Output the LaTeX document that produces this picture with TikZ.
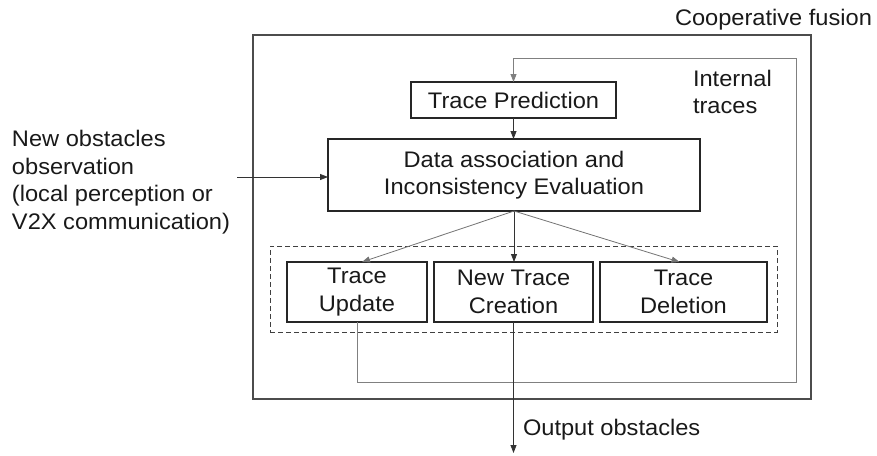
\documentclass[tikz,border=0pt]{standalone}
\usepackage{fontspec}
\setmainfont{Liberation Sans}[FakeStretch=1.05]
\usetikzlibrary{arrows.meta,calc}
\begin{document}
\begin{tikzpicture}[x=1pt,y=-1pt,
  every node/.style={font=\fontsize{22.5}{27.5}\selectfont, text=black!90},
  box/.style={draw=black!85, line width=1.2pt, inner sep=0pt, outer sep=0pt, align=center},
  outerbox/.style={draw=black!70, line width=1.5pt, inner sep=0pt, outer sep=0pt},
  dbox/.style={draw=black!75, line width=1pt, dash pattern=on 5pt off 3pt, inner sep=0pt, outer sep=0pt},
  arr/.style={draw=black!80, line width=0.8pt, -{Triangle[length=8pt,width=6pt]}},
  garr/.style={draw=black!55, line width=0.8pt, -{Triangle[length=8pt,width=6pt]}},
  fb/.style={draw=black!50, line width=0.9pt, -{Triangle[length=8pt,width=6pt]}},
  lbl/.style={inner sep=0pt, outer sep=0pt}
]
\useasboundingbox (0,0) rectangle (877,455);

% outer frame
\node[outerbox, minimum width=558pt, minimum height=364pt, anchor=north west] (outer) at (253,35) {};
\node[lbl, anchor=base east] (coop) at (872,25) {Cooperative fusion};

% dashed group
\node[dbox, minimum width=507pt, minimum height=86pt, anchor=north west] (grp) at (270,246) {};

% main boxes
\node[box, minimum width=205pt, minimum height=36pt] (tp) at (513.5,100) {Trace Prediction};
\node[box, minimum width=372pt, minimum height=72pt] (da) at (514,175) {Data association and\\Inconsistency Evaluation};
\node[box, minimum width=140pt, minimum height=60pt] (tu) at (357,292) {Trace\\Update};
\node[box, minimum width=159pt, minimum height=60pt] (ntc) at (513.5,292) {New Trace\\Creation};
\node[box, minimum width=167pt, minimum height=60pt] (td) at (683.5,292) {Trace\\Deletion};

% labels
\node[lbl, anchor=north west, align=left] (newobs) at (12,130.5) {New obstacles\\observation\\(local perception or\\V2X communication)};
\node[lbl, anchor=north west, align=left] (internal) at (693,70) {Internal\\traces};
\node[lbl, anchor=base west] (outlbl) at (523,435) {Output obstacles};

% coordinates
\coordinate (in) at (237,177);
\coordinate (fbR) at (796,382);
\coordinate (fbT) at (796,58);
\coordinate (out) at (513.5,453);

% connectors
\draw[arr] (in) -- (da.west |- in);
\draw[arr] (tp.south) -- (tp.south |- da.north);
\draw[garr] (da.south) -- ([xshift=5pt]tu.north);
\draw[arr] (da.south) -- (da.south |- ntc.north);
\draw[garr] (da.south) -- ([xshift=-4pt]td.north);
\draw[fb] (tu.south) |- (fbR) -- (fbT) -| (tp.north);
\draw[arr] (ntc.south) -- (out);
\end{tikzpicture}
\end{document}
